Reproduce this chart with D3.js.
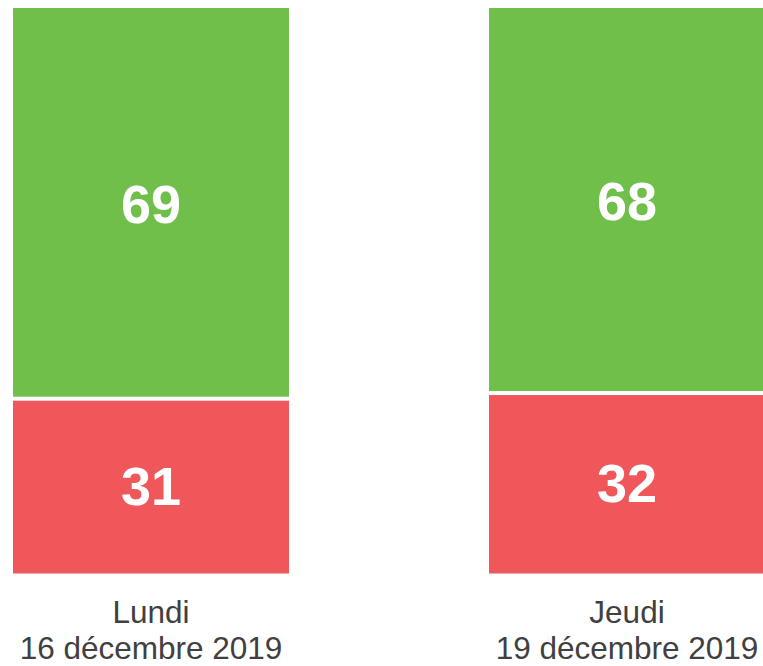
<!DOCTYPE html>
<html>
<head>
<meta charset="utf-8">
<script src="https://cdn.jsdelivr.net/npm/d3@7"></script>
<style>
  body { margin: 0; background: #fff; overflow: hidden; }
  svg { display: block; }
</style>
</head>
<body>
<svg id="chart"></svg>
<script>
// Data
const days = ["Lundi", "Jeudi"];
const dates = ["16 décembre 2019", "19 décembre 2019"];
const greenValues = [69, 68];
const redValues = [31, 32];

const width = 763;
const height = 666;

const green = "#71bf4b";
const red = "#f0575b";

const svg = d3.select("#chart")
  .attr("width", width)
  .attr("height", height);

// Scales
const x = d3.scaleBand()
  .domain(days)
  .range([13, 765])
  .paddingInner(200 / 476)
  .paddingOuter(0);

const y = d3.scaleLinear()
  .domain([0, 100])
  .range([573.5, 8]);

const rows = days.map((d, i) => ({
  day: d,
  date: dates[i],
  green: greenValues[i],
  red: redValues[i]
}));

const gapTop = 1.5;
const gapBottom = 2.5;

const bars = svg.append("g").selectAll("g")
  .data(rows)
  .enter()
  .append("g");

// Red segment (bottom)
bars.append("rect")
  .attr("x", d => x(d.day))
  .attr("width", x.bandwidth())
  .attr("y", d => y(d.red) + gapBottom)
  .attr("height", d => y(0) - y(d.red) - gapBottom)
  .attr("fill", red);

// Green segment (top)
bars.append("rect")
  .attr("x", d => x(d.day))
  .attr("width", x.bandwidth())
  .attr("y", d => y(d.red + d.green))
  .attr("height", d => y(d.red) - y(d.red + d.green) - gapTop)
  .attr("fill", green);

// Values
bars.append("text")
  .attr("x", d => x(d.day) + x.bandwidth() / 2)
  .attr("y", d => (y(d.red + d.green) + y(d.red)) / 2)
  .attr("dy", "0.36em")
  .attr("text-anchor", "middle")
  .attr("fill", "#fff")
  .style("font", "bold 54px 'Liberation Sans', Arial, sans-serif")
  .text(d => d.green);

bars.append("text")
  .attr("x", d => x(d.day) + x.bandwidth() / 2)
  .attr("y", d => (y(0) + y(d.red)) / 2)
  .attr("dy", "0.36em")
  .attr("text-anchor", "middle")
  .attr("fill", "#fff")
  .style("font", "bold 54px 'Liberation Sans', Arial, sans-serif")
  .text(d => d.red);

// Category labels
const labels = bars.append("text")
  .attr("text-anchor", "middle")
  .attr("fill", "#404040")
  .style("font", "31.5px 'Liberation Sans', Arial, sans-serif");

labels.append("tspan")
  .attr("x", d => x(d.day) + x.bandwidth() / 2)
  .attr("y", 623)
  .text(d => d.day);

labels.append("tspan")
  .attr("x", d => x(d.day) + x.bandwidth() / 2)
  .attr("y", 659)
  .text(d => d.date);
</script>
</body>
</html>
